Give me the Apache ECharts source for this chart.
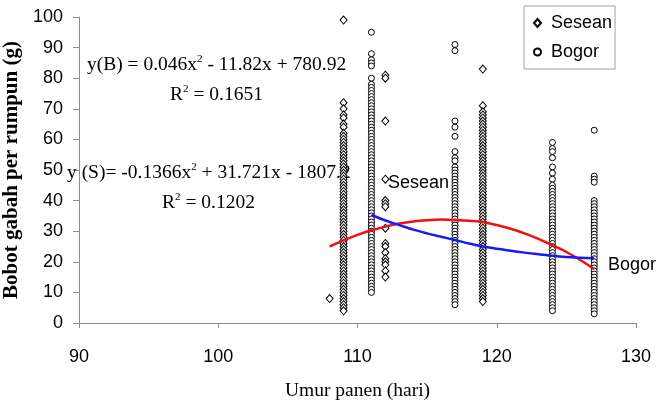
<!DOCTYPE html>
<html>
<head>
<meta charset="utf-8">
<script src="https://cdn.jsdelivr.net/npm/echarts@6/dist/echarts.min.js"></script>
<style>html,body{margin:0;padding:0;background:#fff}#c{width:662px;height:404px}</style>
</head>
<body>
<div id="c"></div>
<script>
// ---- data ----
const xTicks = [90, 100, 110, 120, 130];
const yTicks = [0, 10, 20, 30, 40, 50, 60, 70, 80, 90, 100];

// Sesean (diamonds): y values per harvest age
const sesean108 = [8];
const sesean109 = [99, 72, 70, 68, 67, 65, 64, 62, 61, 60, 59, 58, 57, 56, 55, 54, 53, 52, 51, 50, 49, 48, 47, 46, 45, 44, 43, 42, 41, 40, 39, 38, 37, 36, 35, 34, 33, 32, 31, 30, 29, 28, 27, 26, 25, 24, 23, 22, 21, 20, 19, 18, 17, 16, 15, 14, 13, 12, 11, 10, 9, 8, 7, 6, 5, 4];
const sesean112 = [81, 80, 66, 47, 40, 39, 38, 31, 26, 25, 23, 21, 20, 19, 17, 15];
const sesean119 = [83, 71, 69, 68, 67, 66, 65, 64, 63, 62, 61, 60, 59, 58, 57, 56, 55, 54, 53, 52, 51, 50, 49, 48, 47, 46, 45, 44, 43, 42, 41, 40, 39, 38, 37, 36, 35, 34, 33, 32, 31, 30, 29, 28, 27, 26, 25, 24, 23, 22, 21, 20, 19, 18, 17, 16, 15, 14, 13, 12, 11, 10, 9, 8, 7];

// Bogor (circles): y values per harvest age
const bogor111 = [95, 88, 86, 85, 84, 80, 78, 77, 76, 75, 74, 73, 72, 71, 70, 69, 68, 67, 66, 65, 64, 63, 62, 61, 60, 59, 58, 57, 56, 55, 54, 53, 52, 51, 50, 49, 48, 47, 46, 45, 44, 43, 42, 41, 40, 39, 38, 37, 36, 35, 34, 33, 32, 31, 30, 29, 28, 27, 26, 25, 24, 23, 22, 21, 20, 19, 18, 17, 16, 15, 14, 13, 12, 11, 10];
const bogor117 = [91, 89, 66, 64, 61, 56, 54, 53, 51, 50, 49, 48, 47, 46, 45, 44, 43, 42, 41, 40, 39, 38, 37, 36, 35, 34, 33, 32, 31, 30, 29, 28, 27, 26, 25, 24, 23, 22, 21, 20, 19, 18, 17, 16, 15, 14, 13, 12, 11, 10, 9, 8, 7, 6];
const bogor124 = [59, 57, 56, 54, 51, 49, 47, 45, 44, 43, 42, 41, 40, 39, 38, 37, 36, 35, 34, 33, 32, 31, 30, 29, 28, 27, 26, 25, 24, 23, 22, 21, 20, 19, 18, 17, 16, 15, 14, 13, 12, 11, 10, 9, 8, 7, 6, 5, 4];
const bogor127 = [63, 48, 47, 46, 40, 39, 38, 37, 36, 35, 34, 33, 32, 31, 30, 29, 28, 27, 26, 25, 24, 23, 22, 21, 20, 19, 18, 17, 16, 15, 14, 13, 12, 11, 10, 9, 8, 7, 6, 5, 4, 3];

// fitted curves
const seseanFitX = [108, 109, 110, 111, 112, 113, 114, 115, 116, 117, 118, 119, 120, 121, 122, 123, 124, 125, 126, 127];
const seseanFitY = [25, 27, 28.8, 30.3, 31.5, 32.5, 33.2, 33.6, 33.8, 33.7, 33.4, 33, 32, 30.8, 29.3, 27.5, 25.4, 23.2, 20.6, 17.6];
const bogorFitX = [111, 112, 113, 114, 115, 116, 117, 118, 119, 120, 121, 122, 123, 124, 125, 126, 127];
const bogorFitY = [35.3, 33.5, 32, 30.5, 29.3, 28.2, 27.1, 26, 25, 24.3, 23.6, 23, 22.5, 22, 21.6, 21.3, 21.2];

// ---- build ----
function col(x, ys) { return ys.map(y => [x, y]); }
const seseanData = [].concat(col(108, sesean108), col(109, sesean109), col(112, sesean112), col(119, sesean119));
const bogorData = [].concat(col(111, bogor111), col(117, bogor117), col(124, bogor124), col(127, bogor127));
const pair = (xs, ys) => xs.map((x, i) => [x, ys[i]]);

const chart = echarts.init(document.getElementById('c'), null, {renderer: 'canvas'});
const axisGray = '#8c8c8c';
const serif = '"Liberation Serif", "Times New Roman", serif';
const sans = '"Liberation Sans", Arial, sans-serif';
const eqRich = {
  n: {fontFamily: serif, fontSize: 19.5, color: '#000', lineHeight: 22},
  s: {fontFamily: serif, fontSize: 11, color: '#000', verticalAlign: 'top', lineHeight: 22, padding: [0, 0, 10, 0]}
};

chart.setOption({
  animation: false,
  backgroundColor: '#fff',
  grid: {left: 79, right: 26, top: 17, bottom: 81, outerBoundsMode: 'none', containLabel: false},
  xAxis: {
    type: 'value', min: xTicks[0], max: xTicks[xTicks.length - 1], interval: 10,
    name: 'Umur panen (hari)', nameLocation: 'middle', nameGap: 58,
    nameTextStyle: {fontFamily: serif, fontSize: 19.5, color: '#000'},
    axisLine: {show: true, lineStyle: {color: axisGray, width: 1}},
    axisTick: {show: true, length: 5, lineStyle: {color: axisGray}},
    axisLabel: {fontFamily: sans, fontSize: 18, color: '#000', margin: 25},
    splitLine: {show: false}
  },
  yAxis: {
    type: 'value', min: yTicks[0], max: yTicks[yTicks.length - 1], interval: 10,
    name: 'Bobot gabah per rumpun (g)', nameLocation: 'middle', nameGap: 55,
    nameTextStyle: {fontFamily: serif, fontSize: 21, fontWeight: 'bold', color: '#000'},
    axisLine: {show: true, lineStyle: {color: axisGray, width: 1}},
    axisTick: {show: true, length: 6, lineStyle: {color: axisGray}},
    axisLabel: {fontFamily: sans, fontSize: 18, color: '#000', margin: 16},
    splitLine: {show: false}
  },
  legend: {
    orient: 'vertical', left: 524, top: 6,
    data: ['Sesean', 'Bogor'],
    itemWidth: 7, itemHeight: 8, itemGap: 11,
    padding: [8, 3, 8, 9],
    borderColor: '#a0a0a0', borderWidth: 1, backgroundColor: '#fff',
    textStyle: {fontFamily: sans, fontSize: 18, color: '#000', padding: [0, 0, 0, 5]}
  },
  graphic: [
    {type: 'text', left: 87, top: 54, z: 1, style: {text: '{n|y(B) = 0.046x}{s|2}{n| - 11.82x + 780.92}', rich: eqRich}},
    {type: 'text', left: 170, top: 84, z: 1, style: {text: '{n|R}{s|2}{n| = 0.1651}', rich: eqRich}},
    {type: 'text', left: 67, top: 162, z: 1, style: {text: '{n|y (S)= -0.1366x}{s|2}{n| + 31.721x - 1807.2}', rich: eqRich}},
    {type: 'text', left: 162, top: 192, z: 1, style: {text: '{n|R}{s|2}{n| = 0.1202}', rich: eqRich}},
    {type: 'text', left: 388, top: 174, z: 10, style: {text: 'Sesean', font: '18px "Liberation Sans", Arial, sans-serif', fill: '#000'}},
    {type: 'text', left: 608, top: 256, z: 10, style: {text: 'Bogor', font: '18px "Liberation Sans", Arial, sans-serif', fill: '#000'}}
  ],
  series: [
    {
      name: 'Sesean', type: 'scatter', data: seseanData, symbol: 'diamond', symbolSize: [7, 8],
      itemStyle: {color: '#fff', borderColor: '#000', borderWidth: 1, opacity: 1}, z: 3
    },
    {
      name: 'Bogor', type: 'scatter', data: bogorData, symbol: 'circle', symbolSize: 6,
      itemStyle: {color: '#fff', borderColor: '#000', borderWidth: 1, opacity: 1}, z: 3
    },
    {
      name: 'fitS', type: 'line', data: pair(seseanFitX, seseanFitY), smooth: 0.3, showSymbol: false,
      lineStyle: {color: '#ee1111', width: 2.5}, z: 5
    },
    {
      name: 'fitB', type: 'line', data: pair(bogorFitX, bogorFitY), smooth: 0.3, showSymbol: false,
      lineStyle: {color: '#1a1aee', width: 2.5}, z: 5
    }
  ]
});
</script>
</body>
</html>
